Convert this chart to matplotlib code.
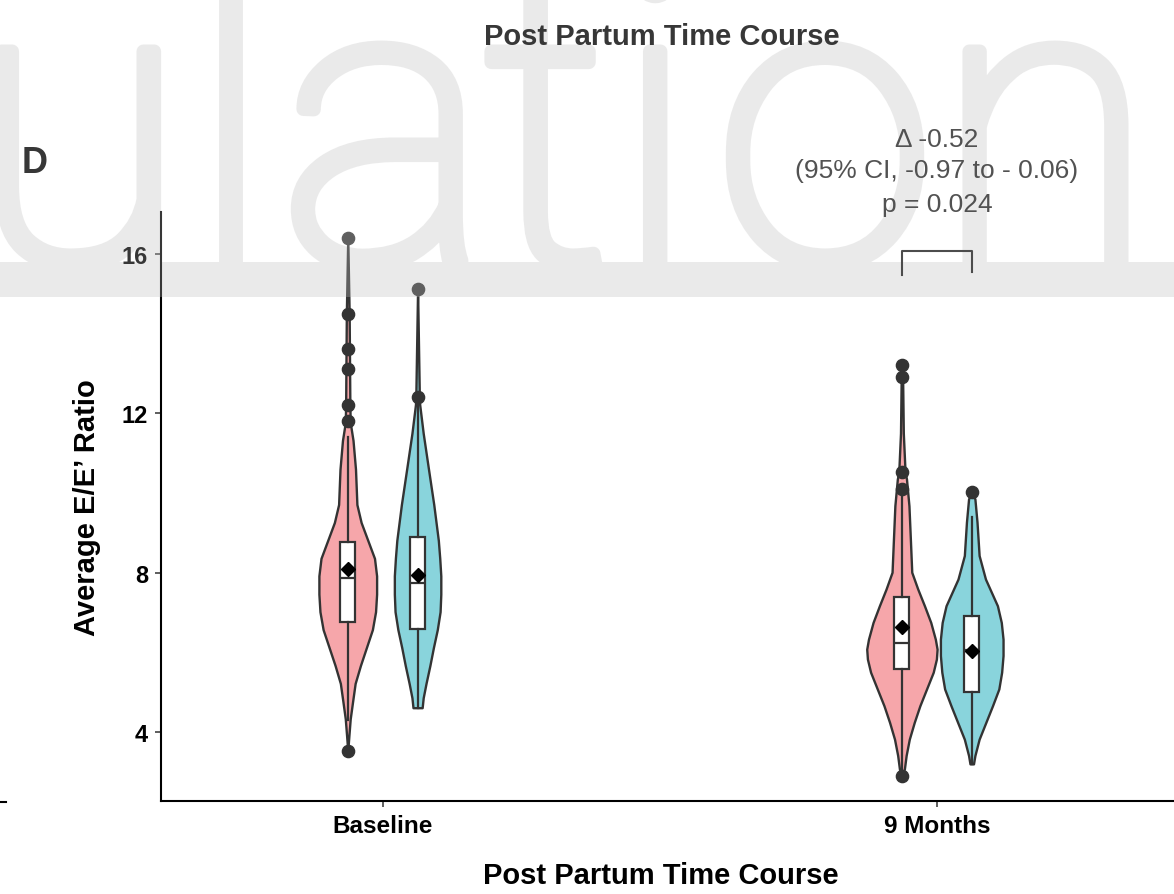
import numpy as np
import matplotlib
matplotlib.use("Agg")
import matplotlib.pyplot as plt
from matplotlib import patheffects as pe
from matplotlib.patches import Rectangle
from matplotlib.lines import Line2D

plt.rcParams['font.family'] = ['Liberation Sans', 'DejaVu Sans']
plt.rcParams['font.weight'] = 'bold'

# time points on the x axis, two groups dodged at each
timepoints = ['Baseline', '9 Months']
group_colors = ['#F6A6AA', '#89D4DC']

# violin outlines: E/E' level and relative density (1.0 = widest violin)
base_a_levels = [16.41, 14.5, 12.2, 11.77, 11.32, 10.6, 9.71, 9.26, 8.81, 8.36, 7.92,
                 7.46, 7.02, 6.57, 6.12, 5.67, 5.22, 4.78, 4.33, 3.88, 3.52]
base_a_dens = [0.0, 0.04, 0.06, 0.07, 0.15, 0.22, 0.26, 0.38, 0.57, 0.76, 0.82,
               0.82, 0.79, 0.70, 0.53, 0.36, 0.21, 0.14, 0.07, 0.03, 0.0]

base_b_levels = [15.11, 13.5, 12.42, 12.22, 11.5, 10.6, 9.71, 8.81, 8.36, 7.92, 7.46,
                 7.02, 6.57, 6.12, 5.67, 5.22, 4.86, 4.61]
base_b_dens = [0.0, 0.03, 0.05, 0.06, 0.16, 0.31, 0.46, 0.59, 0.63, 0.66, 0.66,
               0.64, 0.56, 0.45, 0.35, 0.24, 0.16, 0.13]

m9_a_levels = [13.21, 12.9, 11.5, 10.52, 10.35, 9.68, 8.85, 8.01, 7.59, 7.17, 6.75,
               6.33, 6.08, 5.83, 5.50, 5.08, 4.66, 4.24, 3.82, 3.41, 3.07, 2.90]
m9_a_dens = [0.0, 0.02, 0.04, 0.09, 0.13, 0.20, 0.24, 0.28, 0.45, 0.64, 0.82,
             0.95, 1.0, 0.98, 0.89, 0.70, 0.51, 0.35, 0.21, 0.12, 0.07, 0.0]

m9_b_levels = [10.02, 9.85, 9.27, 8.43, 7.84, 7.17, 6.75, 6.33, 5.92, 5.50, 5.08,
               4.66, 4.24, 3.82, 3.41, 3.20]
m9_b_dens = [0.0, 0.09, 0.15, 0.21, 0.39, 0.73, 0.84, 0.89, 0.89, 0.85, 0.77,
             0.59, 0.40, 0.21, 0.09, 0.05]

# box summaries: q1, median, q3, whisker ends, mean, outlying points
q1 = [6.75, 6.59, 5.58, 5.00]
median = [7.87, 7.75, 6.23, 6.05]
q3 = [8.77, 8.90, 7.38, 6.92]
whisker_lo = [4.30, 4.61, 2.90, 3.20]
whisker_hi = [11.41, 12.20, 9.89, 9.40]
means = [8.09, 7.93, 6.63, 6.04]
outliers = [[16.41, 14.50, 13.61, 13.11, 12.22, 11.81, 3.52],
            [15.11, 12.42],
            [13.21, 12.90, 10.52, 10.10, 2.90],
            [10.02]]

# comparison at 9 months
delta_text = "\u0394 -0.52"
ci_text = "(95% CI, -0.97 to - 0.06)"
p_text = "p = 0.024"

W, H = 1174, 895
fig = plt.figure(figsize=(W / 100, H / 100), dpi=100)
ax = fig.add_axes([161 / W, 1 - 802 / H, (W - 161) / W, 589 / H])
ax.patch.set_visible(False)

dodge = 0.063
half_max = 0.0635
box_w = 0.027
edge = '#333333'

violins = [(base_a_levels, base_a_dens), (base_b_levels, base_b_dens),
           (m9_a_levels, m9_a_dens), (m9_b_levels, m9_b_dens)]
positions = []
for i, (lev, dens) in enumerate(violins):
    x0 = 1 + i // 2 + (-dodge if i % 2 == 0 else dodge)
    positions.append(x0)
    lev = np.asarray(lev)
    hw = np.asarray(dens) * half_max
    ax.fill_betweenx(lev, x0 - hw, x0 + hw, facecolor=group_colors[i % 2],
                     edgecolor=edge, linewidth=1.7, zorder=2)

stats = []
for i in range(4):
    stats.append(dict(q1=q1[i], med=median[i], q3=q3[i], whislo=whisker_lo[i],
                      whishi=whisker_hi[i], mean=means[i], fliers=outliers[i]))

ax.bxp(stats, positions=positions, widths=box_w, patch_artist=True,
       showmeans=True, showcaps=False, manage_ticks=False, zorder=3,
       boxprops=dict(facecolor='white', edgecolor=edge, linewidth=1.6),
       medianprops=dict(color=edge, linewidth=1.6),
       whiskerprops=dict(color=edge, linewidth=1.6),
       meanprops=dict(marker='D', markerfacecolor='black', markeredgecolor='black',
                      markersize=7.5),
       flierprops=dict(marker='o', markerfacecolor=edge, markeredgecolor=edge,
                       markersize=8.8))

ax.set_xlim(0.6, 2.428)
ax.set_ylim(2.268, 17.054)
ax.set_xticks([1, 2])
ax.set_xticklabels(timepoints)
ax.set_yticks([4, 8, 12, 16])
ax.tick_params(axis='both', length=4.3, width=1.1, color=edge, pad=5,
               labelcolor='black')
ax.tick_params(axis='x', labelsize=17.5)
ax.tick_params(axis='y', labelsize=17)
for s in ['top', 'right']:
    ax.spines[s].set_visible(False)
for s in ['left', 'bottom']:
    ax.spines[s].set_linewidth(1.5)
    ax.spines[s].set_color('black')

ax.set_ylabel("Average E/E\u2019 Ratio", fontsize=21, fontweight='bold')
ax.yaxis.set_label_coords(-0.059, 0.5)
ax.set_xlabel("Post Partum Time Course", fontsize=21, fontweight='bold')
ax.xaxis.set_label_coords(0.4936, -0.102)

# significance bracket and its caption
xa, xb = 2 - dodge, 2 + dodge
ax.plot([xa, xa, xb, xb], [15.47, 16.07, 16.07, 15.56], color='#1a1a1a',
        lw=1.5, clip_on=False, zorder=4)
for txt, yv in [(delta_text, 18.72), (ci_text, 17.93), (p_text, 17.09)]:
    ax.text(2.0, yv, txt, ha='center', va='baseline', fontsize=19,
            fontweight='normal', color='#222222', clip_on=False)

fig.text(662 / W, 1 - 37 / H, "Post Partum Time Course", ha='center', va='center',
         fontsize=21, fontweight='bold', color='black')
fig.text(22 / W, 1 - 173 / H, "D", ha='left', va='baseline', fontsize=26,
         fontweight='bold', color='black')

# edge of the neighbouring panel's axis
fig.add_artist(Line2D([0, 6 / W], [1 - 803 / H] * 2, transform=fig.transFigure,
                      color='black', lw=1.5))

# journal watermark behind the upper part of the figure, then a light veil
wm_color = '#e5e5e5'
veil_top = 298
fig.add_artist(Rectangle((0, 1 - veil_top / H), 1, 35 / H,
                         transform=fig.transFigure, facecolor=wm_color,
                         lw=0, zorder=-2))
for ch, cx in zip("ulation", [78, 231, 385, 547, 655, 825, 1045]):
    fig.text(cx / W, 1 - 263 / H, ch, ha='center', va='baseline', fontsize=287,
             family=['Roboto', 'DejaVu Sans'], fontweight='light',
             color=wm_color, zorder=-2,
             path_effects=[pe.withStroke(linewidth=10, foreground=wm_color)])
fig.add_artist(Rectangle((0, 1 - veil_top / H), 1, veil_top / H,
                         transform=fig.transFigure, facecolor='white',
                         alpha=0.22, lw=0, zorder=10))

fig.savefig("out.png", dpi=100)
